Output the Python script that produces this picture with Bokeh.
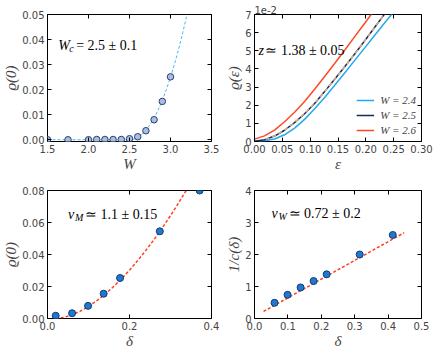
from bokeh.plotting import figure
from bokeh.models import (FixedTicker, NumeralTickFormatter, LinearAxis, Label,
                          Legend, LegendItem, Range1d, Title)
from bokeh.layouts import column, row
from bokeh.embed import file_html
from bokeh.resources import INLINE

# ---------------- data ----------------
# panel (a): rho(0) vs W
W_vals = [1.5, 1.75, 2.0, 2.1, 2.2, 2.3, 2.4, 2.5, 2.6, 2.7, 2.8, 2.9, 3.0]
rho0_W = [0.0, 0.0, 0.0, 0.0001, 0.0001, 0.0001, 0.0001, 0.0004, 0.0012,
          0.0036, 0.0080, 0.0153, 0.0251]
fit_W = [1.5, 2.5, 2.55, 2.6, 2.65, 2.7, 2.75, 2.8, 2.85, 2.9, 2.95, 3.0,
         3.05, 3.1, 3.15, 3.2, 3.22]
fit_rho0_W = [0.0, 0.0, 0.0002, 0.0009, 0.0021, 0.0038, 0.0060, 0.0087, 0.0119,
              0.0157, 0.0201, 0.0250, 0.0303, 0.0363, 0.0428, 0.0499, 0.0515]

# panel (b): rho(eps) (units of 1e-2)
eps_24 = [0.0, 0.018, 0.036, 0.054, 0.072, 0.09, 0.108, 0.126, 0.144, 0.162,
          0.18, 0.198, 0.216, 0.234, 0.25]
rho_24 = [0.0, 0.04, 0.14, 0.37, 0.74, 1.22, 1.80, 2.43, 3.10, 3.78, 4.47,
          5.16, 5.86, 6.55, 7.15]
eps_25 = [0.0, 0.018, 0.036, 0.054, 0.072, 0.09, 0.108, 0.126, 0.144, 0.162,
          0.18, 0.198, 0.216, 0.236]
rho_25 = [0.02, 0.10, 0.30, 0.62, 1.04, 1.53, 2.10, 2.75, 3.43, 4.12, 4.82,
          5.55, 6.30, 7.12]
eps_26 = [0.0, 0.018, 0.036, 0.054, 0.072, 0.09, 0.108, 0.126, 0.144, 0.162,
          0.18, 0.198, 0.216]
rho_26 = [0.13, 0.31, 0.63, 1.09, 1.61, 2.20, 2.88, 3.58, 4.30, 5.03, 5.78,
          6.52, 7.27]
fit_eps = [0.02, 0.036, 0.054, 0.072, 0.09, 0.108, 0.126, 0.144, 0.162, 0.18,
           0.198, 0.216, 0.236]
fit_rho_eps = [0.12, 0.31, 0.63, 1.05, 1.54, 2.11, 2.75, 3.43, 4.12, 4.82,
               5.55, 6.30, 7.12]
legend_labels = ["W = 2.4", "W = 2.5", "W = 2.6"]

# panel (c): rho(0) vs delta
delta_M = [0.02, 0.06, 0.099, 0.137, 0.177, 0.274, 0.371]
rho0_delta = [0.0017, 0.0033, 0.0079, 0.0155, 0.0253, 0.0545, 0.0800]
fit_delta_M = [0.02, 0.04, 0.06, 0.08, 0.10, 0.12, 0.14, 0.16, 0.18, 0.20,
               0.22, 0.24, 0.26, 0.28, 0.30, 0.32, 0.34]
fit_rho0_delta = [0.0, 0.0007, 0.0023, 0.0046, 0.0076, 0.0111, 0.0151, 0.0197,
                  0.0247, 0.0302, 0.0362, 0.0426, 0.0494, 0.0567, 0.0643,
                  0.0723, 0.0808]

# panel (d): 1/c(delta)
delta_W = [0.06, 0.099, 0.138, 0.177, 0.216, 0.315, 0.414]
inv_c = [0.49, 0.74, 0.97, 1.17, 1.38, 2.00, 2.61]
fit_delta_W = [0.027, 0.448]
fit_inv_c = [0.22, 2.68]

# ticks
ticks_a_x = [1.5, 2.0, 2.5, 3.0, 3.5]
ticks_a_y = [0.0, 0.01, 0.02, 0.03, 0.04, 0.05]
ticks_b_x = [0.0, 0.05, 0.10, 0.15, 0.20, 0.25, 0.30]
ticks_b_y = [0, 1, 2, 3, 4, 5, 6, 7]
ticks_c_x = [0.0, 0.2, 0.4]
ticks_c_y = [0.0, 0.02, 0.04, 0.06, 0.08]
ticks_d_x = [0.0, 0.1, 0.2, 0.3, 0.4, 0.5]
ticks_d_y = [0, 1, 2, 3, 4]

MATH_FONT = "Liberation Serif"
TICK_FONT = "DejaVu Sans"


def make_fig(width, height, xr, yr, xt, yt, xfmt, yfmt, xlabel, ylabel, borders):
    p = figure(width=width, height=height, x_range=Range1d(*xr), y_range=Range1d(*yr),
               output_backend="svg", toolbar_location=None, tools="", title=None)
    p.min_border_left, p.min_border_right, p.min_border_top, p.min_border_bottom = borders
    p.xgrid.visible = False
    p.ygrid.visible = False
    p.outline_line_color = "black"
    p.outline_line_width = 1
    p.outline_line_alpha = 1
    p.background_fill_color = "white"
    p.border_fill_color = "white"
    for ax, ticks, fmt, lab in ((p.xaxis[0], xt, xfmt, xlabel), (p.yaxis[0], yt, yfmt, ylabel)):
        ax.ticker = FixedTicker(ticks=ticks)
        ax.formatter = NumeralTickFormatter(format=fmt)
        ax.axis_label = lab
        ax.axis_label_text_font = MATH_FONT
        ax.axis_label_text_font_style = "italic"
        ax.axis_label_text_font_size = "15px"
        ax.axis_label_standoff = 0
        ax.major_label_text_font = TICK_FONT
        ax.major_label_text_font_size = "10px"
        ax.major_label_standoff = 3
        ax.major_tick_in = 4
        ax.major_tick_out = 0
        ax.major_tick_line_color = "black"
        ax.minor_tick_line_color = None
        ax.axis_line_color = None
    # tick marks only (no labels) on the top and right edges
    for loc, ticks in (("above", xt), ("right", yt)):
        ax = LinearAxis(ticker=FixedTicker(ticks=ticks), major_label_text_font_size="0px",
                        major_label_text_color=None, major_label_standoff=0,
                        major_tick_in=4, major_tick_out=0,
                        minor_tick_line_color=None, axis_line_color=None)
        p.add_layout(ax, loc)
    return p


def add_pieces(p, x, y, pieces):
    for txt, dx, dy, size, style in pieces:
        p.add_layout(Label(x=x, y=y, x_offset=dx, y_offset=dy, text=txt,
                           text_font=MATH_FONT, text_font_size=size,
                           text_font_style=style, text_baseline="alphabetic",
                           text_color="black"))


# ---- (a)
p1 = make_fig(222, 174, (1.5, 3.5), (-0.0007, 0.05), ticks_a_x, ticks_a_y,
              "0.0", "0.00", "W", "ϱ(0)", (44, 11, 14, 33))
p1.line(fit_W, fit_rho0_W, line_color="#4fb7ee", line_dash="3 2", line_width=1)
p1.scatter(W_vals, rho0_W, size=6.5, fill_color="#a9bfe2", line_color="#2c3e6e", line_width=1)
add_pieces(p1, 1.63, 0.0376, [("W", 0, 0, "14px", "italic"),
                              ("c", 11, -3, "10px", "italic"),
                              ("= 2.5 ± 0.1", 18, 0, "14px", "normal")])

# ---- (b)
p2 = make_fig(214, 174, (0.0, 0.30), (0, 7), ticks_b_x, ticks_b_y,
              "0.00", "0", "ε", "ϱ(ε)", (32, 15, 14, 33))
r24 = p2.line(eps_24, rho_24, line_color="#21a9ef", line_width=1.5)
r25 = p2.line(eps_25, rho_25, line_color="#1b2a5c", line_width=1.5)
r26 = p2.line(eps_26, rho_26, line_color="#fb4a26", line_width=1.5)
p2.line(fit_eps, fit_rho_eps, line_color="#d8b38a", line_dash="4 3", line_width=1.5)
legend = Legend(items=[LegendItem(label=legend_labels[0], renderers=[r24]),
                       LegendItem(label=legend_labels[1], renderers=[r25]),
                       LegendItem(label=legend_labels[2], renderers=[r26])],
                location="bottom_right", border_line_color=None, background_fill_alpha=0,
                label_text_font=MATH_FONT, label_text_font_style="italic",
                label_text_font_size="11px", glyph_width=18, glyph_height=12,
                label_height=12, spacing=3, padding=3, margin=5, label_standoff=6)
p2.add_layout(legend)
p2.add_layout(Title(text="1e-2", align="left", text_font=TICK_FONT, text_font_size="10px",
                    text_font_style="normal", standoff=1, offset=0), "above")
add_pieces(p2, 0.007, 5.02, [("z", 0, 0, "14px", "italic"),
                             ("≃ 1.38 ± 0.05", 7, 0, "14px", "normal")])

# ---- (c)
p3 = make_fig(222, 177, (0.0, 0.4), (0.0, 0.08), ticks_c_x, ticks_c_y,
              "0.0", "0.00", "δ", "ϱ(0)", (44, 11, 16, 33))
p3.line(fit_delta_M, fit_rho0_delta, line_color="#ff3f1f", line_dash="3 2", line_width=1.5)
p3.scatter(delta_M, rho0_delta, size=7, fill_color="#1f78d1", line_color="#123a70", line_width=1)
add_pieces(p3, 0.05, 0.065, [("ν", 0, 0, "14px", "italic"),
                             ("M", 7, -3, "10px", "italic"),
                             ("≃ 1.1 ± 0.15", 17, 0, "14px", "normal")])

# ---- (d)
p4 = make_fig(214, 177, (0.0, 0.5), (0, 4), ticks_d_x, ticks_d_y,
              "0.0", "0", "δ", "1/c(δ)", (32, 15, 16, 33))
p4.line(fit_delta_W, fit_inv_c, line_color="#ff3f1f", line_dash="3 2", line_width=1.5)
p4.scatter(delta_W, inv_c, size=7, fill_color="#1f78d1", line_color="#123a70", line_width=1)
add_pieces(p4, 0.051, 3.29, [("ν", 0, 0, "14px", "italic"),
                             ("W", 7, -3, "10px", "italic"),
                             ("≃ 0.72 ± 0.2", 17, 0, "14px", "normal")])

layout = column(row(p1, p2), row(p3, p4))
open("out.html", "w").write(file_html(layout, INLINE))
